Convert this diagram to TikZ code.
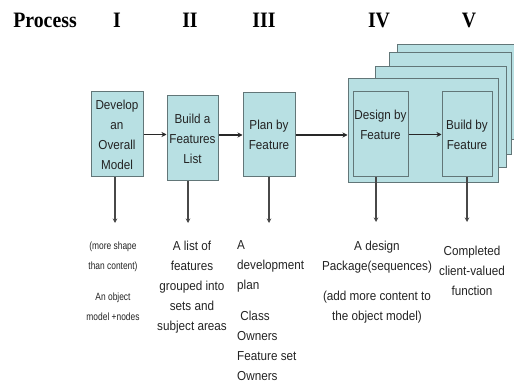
\documentclass[tikz,border=0pt]{standalone}
\usepackage{fontspec}
\usetikzlibrary{arrows.meta}
\setmainfont{Liberation Sans}
\newfontfamily\labfont[FakeStretch=0.9]{Liberation Sans}
\newfontfamily\smallfont[FakeStretch=0.8]{Liberation Sans}
\newfontfamily\hdrfont[FakeStretch=0.9]{Liberation Serif}
\definecolor{boxfill}{RGB}{184,224,227}
\definecolor{boxline}{RGB}{98,118,120}
\definecolor{txt}{RGB}{35,35,35}
\definecolor{arr}{RGB}{40,40,40}
\begin{document}
\begin{tikzpicture}[x=1pt,y=-1pt,
  hdr/.style={anchor=base,inner sep=0pt,font={\hdrfont\bfseries\fontsize{22}{24}\selectfont},text=black},
  procbox/.style={draw=boxline,fill=boxfill,line width=1pt,inner sep=0pt,align=center,
     font={\labfont\fontsize{13}{20}\selectfont},text=txt},
  lab/.style={inner sep=0pt,anchor=north,align=center,font={\labfont\fontsize{13}{20}\selectfont},text=txt},
  slab/.style={inner sep=0pt,anchor=north,align=center,font={\smallfont\fontsize{10.5}{20}\selectfont},text=txt},
  harrow/.style={draw=arr,line width=1.6pt,-{Stealth[length=5pt,width=5pt]}},
  varrow/.style={draw=arr!85,line width=1.3pt,-{Stealth[length=4.5pt,width=4.5pt]}}
]
\useasboundingbox (0,0) rectangle (514,387);
\clip (0,0) rectangle (514,387);
% header
\node[hdr] (hP) at (45,28) {Process};
\node[hdr] (h1) at (117,28) {I};
\node[hdr] (h2) at (190,28) {II};
\node[hdr] (h3) at (264,28) {III};
\node[hdr] (h4) at (379,28) {IV};
\node[hdr] (h5) at (469,28) {V};
% first three boxes
\node[procbox,minimum width=52pt,minimum height=85pt] (I) at (117,134.5) {Develop\\an\\Overall\\Model};
\node[procbox,minimum width=51pt,minimum height=85pt] (II) at (192.5,138.5) {Build a\\Features\\List};
\node[procbox,minimum width=52pt,minimum height=84pt] (III) at (269,135) {Plan by\\Feature};
% stacked boxes
\node[procbox,minimum width=123pt,minimum height=95pt] (L4) at (458.5,92.5) {};
\node[procbox,minimum width=122pt,minimum height=102pt] (L3) at (450,104) {};
\node[procbox,minimum width=131pt,minimum height=101pt] (L2) at (440.5,117.5) {};
\node[procbox,minimum width=150pt,minimum height=104pt] (F) at (423,131) {};
\node[procbox,minimum width=55pt,minimum height=85pt] (D) at (380.5,134.5) {};
\node[lab,anchor=center] (Dt) at (380.5,125) {Design by\\Feature};
\node[procbox,minimum width=50pt,minimum height=85pt] (B) at (467,134.5) {Build by\\Feature};
% horizontal arrows
\draw[harrow] (I.east) -- (I.east -| II.west);
\draw[harrow] (II.east |- III.east) -- (III.west);
\draw[harrow] (III.east) -- (III.east -| F.west);
\draw[harrow] (D.east) -- (B.west);
% down arrows
\coordinate (e1) at (115,223);
\coordinate (e2) at (188,223);
\coordinate (e3) at (269,223);
\coordinate (e4) at (376,222);
\coordinate (e5) at (467,222);
\draw[varrow] (e1 |- I.south) -- (e1);
\draw[varrow] (e2 |- II.south) -- (e2);
\draw[varrow] (e3 |- III.south) -- (e3);
\draw[varrow] (e4 |- D.south) -- (e4);
\draw[varrow] (e5 |- B.south) -- (e5);
% labels
\node[slab] (t1a) at (113,242) {(more shape\\than content)};
\node[slab] (t1b) at (113,293) {An object\\model +nodes};
\node[lab] (t2) at (192,241) {A list of\\features\\grouped into\\sets and\\subject areas};
\node[lab,anchor=north west,align=left] (t3a) at (237,240) {A\\development\\plan};
\node[lab,anchor=north west,align=left] (t3b) at (237,311) {\ Class\\Owners\\Feature set\\Owners};
\node[lab] (t4a) at (377,241) {A design\\Package(sequences)};
\node[lab] (t4b) at (377,291) {(add more content to\\the object model)};
\node[lab] (t5) at (472,246) {Completed\\client-valued\\function};
\end{tikzpicture}
\end{document}
